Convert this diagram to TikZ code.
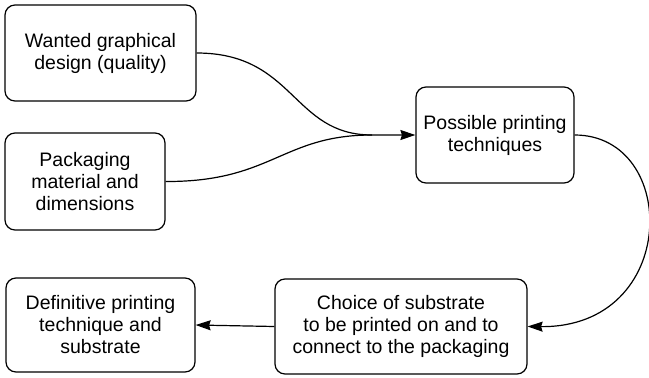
\documentclass[tikz,border=0pt]{standalone}
\usepackage{fontspec}
\setmainfont{Liberation Sans}
\usetikzlibrary{arrows.meta}
\begin{document}
\begin{tikzpicture}[x=1pt,y=1pt,
  box/.style={draw, line width=1.2pt, rounded corners=10pt, align=center,
    inner sep=0pt, font=\fontsize{19.5}{22}\selectfont},
  flow/.style={line width=1.2pt, -{Stealth[length=15pt,width=10pt,inset=1.5pt]}},
  link/.style={line width=1.2pt}]
  \useasboundingbox (0,0) rectangle (649,-378);

  % process boxes
  \node[box, minimum width=191pt, minimum height=96pt] (wanted) at (100.5,-53)
    {Wanted graphical\\design (quality)};
  \node[box, minimum width=160pt, minimum height=97pt] (material) at (85,-181.5)
    {Packaging\\material and\\dimensions};
  \node[box, minimum width=158pt, minimum height=96pt] (possible) at (495,-135)
    {Possible printing\\techniques};
  \node[box, minimum width=252pt, minimum height=95pt] (choice) at (401,-326.5)
    {Choice of substrate\\to be printed on and to\\connect to the packaging};
  \node[box, minimum width=189pt, minimum height=94pt] (final) at (100.5,-325)
    {Definitive printing\\technique and\\substrate};

  % the two inputs join before entering the printing techniques box
  \coordinate (join) at (372,-135);
  \draw[link] (material.east) .. controls (272,-182) and (282,-135) .. (join);
  \draw[flow] (wanted.east) .. controls (295,-53) and (292,-135) .. (join) -- (possible.west);

  % loop down to the substrate choice
  \draw[flow] (possible.east) .. controls (680,-135) and (680,-328) .. (choice.east);

  % final decision
  \draw[flow] (choice.west) -- (final.east);
\end{tikzpicture}
\end{document}
